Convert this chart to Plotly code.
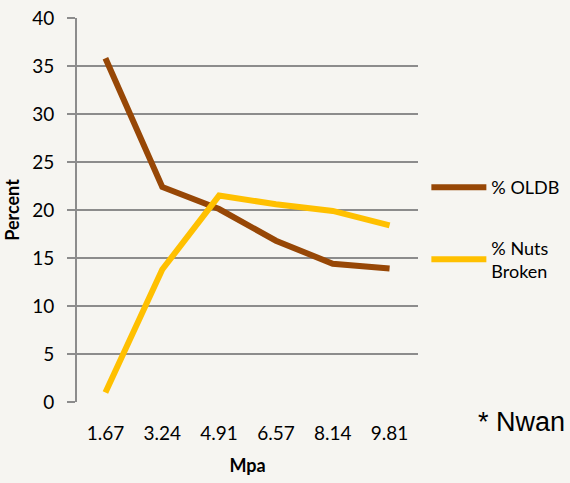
import plotly.graph_objects as go

categories = ["1.67", "3.24", "4.91", "6.57", "8.14", "9.81"]
oldb = [35.8, 22.4, 20.1, 16.8, 14.4, 13.9]
nuts_broken = [1.0, 13.8, 21.5, 20.6, 19.9, 18.4]
y_ticks = [0, 5, 10, 15, 20, 25, 30, 35, 40]

bg = "#F6F5F1"
grid = "#8C8C8C"
font_family = "Lato, 'Open Sans', sans-serif"

fig = go.Figure()
fig.add_trace(go.Scatter(x=categories, y=oldb, mode="lines", name="% OLDB",
                         line=dict(color="#974706", width=6), legendgroup="a"))
fig.add_trace(go.Scatter(x=categories, y=nuts_broken, mode="lines", name="% Nuts<br>Broken",
                         line=dict(color="#FFC000", width=6), legendgroup="b"))

fig.update_layout(
    width=570, height=483,
    paper_bgcolor=bg, plot_bgcolor=bg,
    margin=dict(l=77, r=152, t=18, b=81),
    font=dict(family=font_family, size=19, color="#000000"),
    showlegend=True,
    legend=dict(xref="container", yref="container", x=0.748, y=0.525,
                xanchor="left", yanchor="middle",
                bgcolor="rgba(0,0,0,0)", font=dict(size=18),
                traceorder="grouped", tracegroupgap=34, itemwidth=55),
    xaxis=dict(type="category", range=[-0.5, 5.5], showgrid=False, showline=False, zeroline=False,
               ticks="", tickfont=dict(size=19), automargin=False, ticklabelstandoff=18,
               title=dict(text="<b>Mpa</b>", font=dict(size=18), standoff=16)),
    yaxis=dict(range=[0, 40], tickvals=y_ticks, showgrid=True, gridcolor=grid, gridwidth=2,
               showline=True, linecolor=grid, linewidth=2, zeroline=False,
               ticks="outside", ticklen=8, tickcolor=grid, tickwidth=2,
               tickfont=dict(size=19), automargin=False, ticklabelstandoff=9,
               title=dict(text="<b>Percent</b>", font=dict(size=18), standoff=8)),
)

fig.add_annotation(text="* Nwan", xref="paper", yref="paper", x=1.17, y=-0.052,
                   xanchor="left", yanchor="middle", showarrow=False,
                   font=dict(family="Liberation Sans, Arial, sans-serif", size=27, color="#000000"))

fig.write_html("out.html")
